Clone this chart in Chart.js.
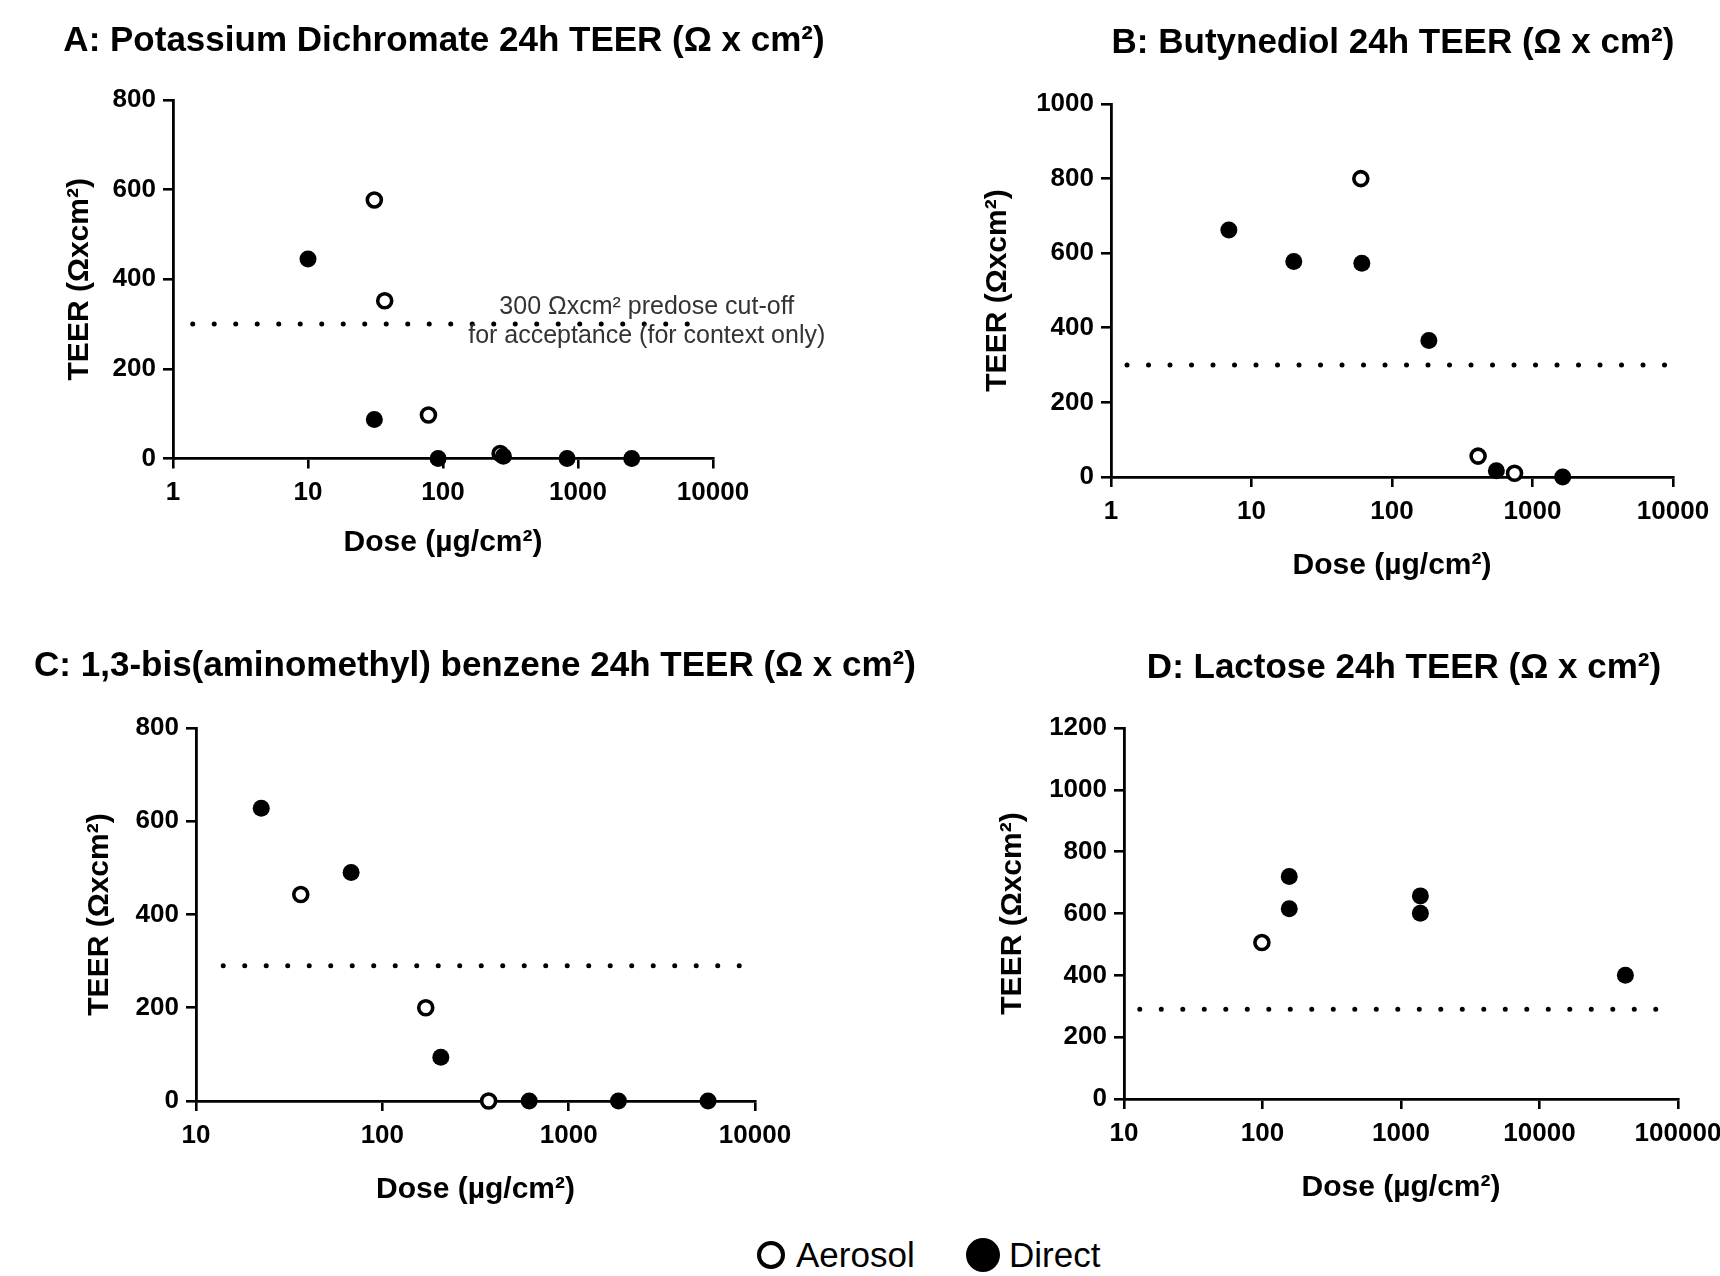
<!DOCTYPE html>
<html><head><meta charset="utf-8">
<script src="https://cdn.jsdelivr.net/npm/chart.js@4.4.1/dist/chart.umd.min.js"></script>
<style>
html,body{margin:0;padding:0;background:#fff;}
body{width:1720px;height:1276px;position:relative;overflow:hidden;font-family:"Liberation Sans",Arial,sans-serif;}
canvas{position:absolute;}
.lg{position:absolute;font-size:35px;line-height:40px;color:#000;white-space:nowrap;}
.mk{position:absolute;border-radius:50%;box-sizing:border-box;}
</style></head><body>
<canvas id="cA" width="880" height="600" style="left:4px;top:0px"></canvas>
<canvas id="cB" width="986" height="620" style="left:900px;top:0px"></canvas>
<canvas id="cC" width="950" height="610" style="left:0px;top:620px"></canvas>
<canvas id="cD" width="1008" height="610" style="left:900px;top:620px"></canvas>
<div class="mk" style="left:757px;top:1241px;width:28px;height:28px;border:4.5px solid #000;background:#fff"></div>
<div class="lg" style="left:796px;top:1235px">Aerosol</div>
<div class="mk" style="left:966px;top:1238px;width:34px;height:34px;background:#000"></div>
<div class="lg" style="left:1009px;top:1235px">Direct</div>
<script>
// ---------- DATA ----------
const seriesNames = ['Aerosol', 'Direct'];
const panelTitles = [
  'A: Potassium Dichromate 24h TEER (Ω x cm²)',
  'B: Butynediol 24h TEER (Ω x cm²)',
  'C: 1,3-bis(aminomethyl) benzene 24h TEER (Ω x cm²)',
  'D: Lactose 24h TEER (Ω x cm²)'
];
const xAxisTitle = 'Dose (µg/cm²)';
const yAxisTitle = 'TEER (Ωxcm²)';
const cutoffNote = ['300 Ωxcm² predose cut-off', 'for acceptance (for context only)'];

// Panel A
const aerosolA_dose = [31, 37, 78, 265];
const aerosolA_teer = [577, 352, 97, 11];
const directA_dose = [10, 31, 92, 280, 830, 2500];
const directA_teer = [445, 87, 0, 5, 0, 0];
const cutoffA_dose = [1.4, 9000];
const cutoffA_teer = [300, 300];
const xTicksA = [1, 10, 100, 1000, 10000];
const yTicksA = [0, 200, 400, 600, 800];

// Panel B
const aerosolB_dose = [60, 410, 745];
const aerosolB_teer = [800, 56, 10];
const directB_dose = [6.9, 20, 61, 183, 553, 1640];
const directB_teer = [662, 578, 573, 366, 17, 0];
const cutoffB_dose = [1.3, 9000];
const cutoffB_teer = [300, 300];
const xTicksB = [1, 10, 100, 1000, 10000];
const yTicksB = [0, 200, 400, 600, 800, 1000];

// Panel C
const aerosolC_dose = [36.5, 171, 372];
const aerosolC_teer = [443, 200, 0];
const directC_dose = [22.4, 68, 206, 614, 1850, 5600];
const directC_teer = [628, 490, 94, 0, 0, 0];
const cutoffC_dose = [14, 9500];
const cutoffC_teer = [290, 290];
const xTicksC = [10, 100, 1000, 10000];
const yTicksC = [0, 200, 400, 600, 800];

// Panel D
const aerosolD_dose = [99];
const aerosolD_teer = [506];
const directD_dose = [156, 156, 1380, 1380, 41700];
const directD_teer = [720, 615, 657, 601, 400];
const cutoffD_dose = [13, 90000];
const cutoffD_teer = [290, 290];
const xTicksD = [10, 100, 1000, 10000, 100000];
const yTicksD = [0, 200, 400, 600, 800, 1000, 1200];

// ---------- RENDERING ----------
const FONT = '"Liberation Sans", Arial, Helvetica, sans-serif';
const TITLE_SIZE = 35, AX_SIZE = 30, TICK_SIZE = 26;
const TITLE_LH = TITLE_SIZE * 1.2, AX_LH = AX_SIZE * 1.2;

const pts = (xs, ys) => xs.map((x, i) => ({x: x, y: ys[i]}));

const notePlugin = {
  id: 'cutoffNote',
  afterDatasetsDraw(chart, args, opts) {
    if (!opts || !opts.lines) return;
    const ctx = chart.ctx, xs = chart.scales.x, ys = chart.scales.y;
    ctx.save();
    ctx.font = opts.font;
    ctx.fillStyle = opts.color;
    ctx.textAlign = 'center';
    ctx.textBaseline = 'middle';
    opts.lines.forEach(l => ctx.fillText(l.text, xs.getPixelForValue(l.x), ys.getPixelForValue(l.y)));
    ctx.restore();
  }
};

function makePanel(id, g, title, aer, dir, cut, xTicks, yTicks, note) {
  const yWidth = g.chartL - g.left;
  const padR = g.left + g.W - g.chartR;
  const tPadTop = g.titleCY - g.top - TITLE_LH / 2;
  const tPadBot = g.chartT - g.top - tPadTop - TITLE_LH;
  const xHeight = g.top + g.H - g.chartB;
  const xTitlePadBot = g.top + g.H - g.doseCY - AX_LH / 2;
  const yTitlePadTop = g.teerCX - g.left - AX_LH / 2;
  const setTicks = arr => (s => { s.ticks = arr.map(v => ({value: v})); });
  const opts = {
    responsive: false,
    animation: false,
    devicePixelRatio: 1,
    layout: {padding: 0},
    plugins: {
      legend: {display: false},
      tooltip: {enabled: false},
      title: {
        display: true, text: title, color: '#000',
        font: {family: FONT, size: TITLE_SIZE, weight: 'bold', lineHeight: 1.2},
        padding: {top: tPadTop, bottom: tPadBot}
      }
    },
    scales: {
      x: {
        type: 'logarithmic', position: 'bottom',
        min: xTicks[0], max: xTicks[xTicks.length - 1],
        afterBuildTicks: setTicks(xTicks),
        afterFit: s => { s.height = xHeight; },
        grid: {display: true, drawOnChartArea: false, drawTicks: true, tickLength: 10, color: '#000', lineWidth: 2.6},
        border: {display: true, color: '#000', width: 2.8},
        ticks: {color: '#000', padding: 9, maxRotation: 0, autoSkip: false,
                font: {family: FONT, size: TICK_SIZE, weight: 'bold'},
                callback: v => String(v)},
        title: {display: true, text: xAxisTitle, color: '#000',
                font: {family: FONT, size: AX_SIZE, weight: 'bold', lineHeight: 1.2},
                padding: {top: 0, bottom: xTitlePadBot}}
      },
      y: {
        type: 'linear', position: 'left',
        min: yTicks[0], max: yTicks[yTicks.length - 1],
        afterBuildTicks: setTicks(yTicks),
        afterFit: s => { s.width = yWidth; },
        grid: {display: true, drawOnChartArea: false, drawTicks: true, tickLength: 10, color: '#000', lineWidth: 2.6},
        border: {display: true, color: '#000', width: 2.8},
        ticks: {color: '#000', padding: 7, autoSkip: false,
                font: {family: FONT, size: TICK_SIZE, weight: 'bold'},
                callback: v => String(v)},
        title: {display: true, text: yAxisTitle, color: '#000',
                font: {family: FONT, size: AX_SIZE, weight: 'bold', lineHeight: 1.2},
                padding: {top: yTitlePadTop, bottom: 0}}
      },
      yR: {
        type: 'linear', position: 'right', display: true,
        grid: {display: false, drawTicks: false},
        border: {display: false},
        ticks: {display: false},
        afterFit: s => { s.width = padR; }
      }
    }
  };
  const plugins = [];
  if (note) {
    plugins.push(notePlugin);
    opts.plugins.cutoffNote = note;
  }
  return new Chart(document.getElementById(id), {
    type: 'scatter',
    data: {
      datasets: [
        {label: seriesNames[1], data: pts(dir[0], dir[1]), pointStyle: 'circle',
         pointRadius: 8.5, pointHoverRadius: 8.5, pointBackgroundColor: '#000', pointBorderColor: '#000',
         pointBorderWidth: 0, clip: false},
        {label: seriesNames[0], data: pts(aer[0], aer[1]), pointStyle: 'circle',
         pointRadius: 7, pointHoverRadius: 7, pointBackgroundColor: '#fff', pointBorderColor: '#000',
         pointBorderWidth: 3.6, clip: false},
        {label: 'cut-off', data: pts(cut[0], cut[1]), showLine: true, pointRadius: 0,
         borderColor: '#000', borderWidth: 5, borderDash: [0, 21.5], borderCapStyle: 'round',
         fill: false, clip: false}
      ]
    },
    options: opts,
    plugins: plugins
  });
}

makePanel('cA',
  {left: 4, top: 0, W: 880, H: 600, chartL: 173, chartR: 713, chartT: 100, chartB: 458.5,
   titleCY: 41, doseCY: 543, teerCX: 80},
  panelTitles[0], [aerosolA_dose, aerosolA_teer], [directA_dose, directA_teer],
  [cutoffA_dose, cutoffA_teer], xTicksA, yTicksA,
  {font: '25px ' + FONT, color: '#333',
   lines: [{text: cutoffNote[0], x: 3230, y: 338}, {text: cutoffNote[1], x: 3230, y: 274}]});

makePanel('cB',
  {left: 900, top: 0, W: 986, H: 620, chartL: 1111, chartR: 1673, chartT: 104, chartB: 477,
   titleCY: 43, doseCY: 566, teerCX: 998},
  panelTitles[1], [aerosolB_dose, aerosolB_teer], [directB_dose, directB_teer],
  [cutoffB_dose, cutoffB_teer], xTicksB, yTicksB, null);

makePanel('cC',
  {left: 0, top: 620, W: 950, H: 610, chartL: 196, chartR: 755, chartT: 728, chartB: 1101,
   titleCY: 666, doseCY: 1190, teerCX: 100},
  panelTitles[2], [aerosolC_dose, aerosolC_teer], [directC_dose, directC_teer],
  [cutoffC_dose, cutoffC_teer], xTicksC, yTicksC, null);

makePanel('cD',
  {left: 900, top: 620, W: 1008, H: 610, chartL: 1124, chartR: 1678, chartT: 728, chartB: 1099,
   titleCY: 668, doseCY: 1188, teerCX: 1013},
  panelTitles[3], [aerosolD_dose, aerosolD_teer], [directD_dose, directD_teer],
  [cutoffD_dose, cutoffD_teer], xTicksD, yTicksD, null);
</script>
</body></html>
